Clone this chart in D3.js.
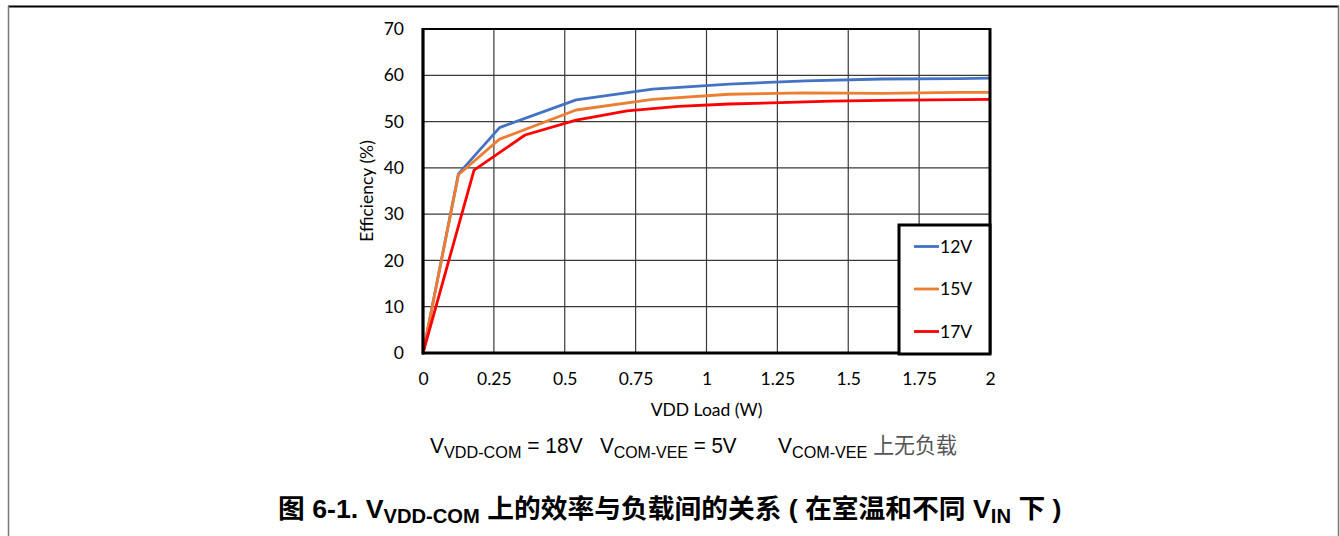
<!DOCTYPE html>
<html>
<head>
<meta charset="utf-8">
<script src="https://cdn.jsdelivr.net/npm/d3@7"></script>
<style>
  body { margin: 0; background: #fff; }
  svg { display: block; }
</style>
</head>
<body>
<div id="chart"></div>
<script>
// data
var load12V = [0, 0.125, 0.27, 0.54, 0.81, 1.08, 1.35, 1.62, 1.89, 2.0];
var eff12V = [0, 38.7, 48.7, 54.7, 57.0, 58.1, 58.8, 59.2, 59.3, 59.4];
var load15V = [0, 0.125, 0.27, 0.54, 0.81, 1.08, 1.35, 1.62, 1.89, 2.0];
var eff15V = [0, 38.5, 46.2, 52.5, 54.8, 55.9, 56.2, 56.1, 56.3, 56.3];
var load17V = [0, 0.18, 0.36, 0.54, 0.72, 0.9, 1.08, 1.26, 1.44, 1.62, 1.8, 2.0];
var eff17V = [0, 39.5, 47.1, 50.3, 52.3, 53.3, 53.8, 54.1, 54.4, 54.6, 54.7, 54.8];
var seriesNames = ["12V", "15V", "17V"];
var seriesColors = ["#4472C4", "#ED7D31", "#FF0000"];
var xTicks = [0, 0.25, 0.5, 0.75, 1, 1.25, 1.5, 1.75, 2];
var yTicks = [0, 10, 20, 30, 40, 50, 60, 70];

var W = 1340, H = 536;
var plot = { left: 423, right: 990, top: 29, bottom: 353 };
var tickFont = "Lato, 'Noto Sans', sans-serif";
var capFont = "'Liberation Sans Narrow', 'Liberation Sans', Arial, 'Noto Sans CJK SC', sans-serif";

var svg = d3.select("#chart")
  .append("svg")
  .attr("width", W)
  .attr("height", H);

// outer frame (top, left, right edges only)
svg.append("line").attr("x1", 8).attr("x2", 1339).attr("y1", 6.5).attr("y2", 6.5)
  .attr("stroke", "#000").attr("stroke-width", 2);
svg.append("line").attr("x1", 8.5).attr("x2", 8.5).attr("y1", 6).attr("y2", H)
  .attr("stroke", "#777").attr("stroke-width", 1.5);
svg.append("line").attr("x1", 1338.5).attr("x2", 1338.5).attr("y1", 6).attr("y2", H)
  .attr("stroke", "#777").attr("stroke-width", 1.5);

var x = d3.scaleLinear().domain([0, 2]).range([plot.left, plot.right]);
var y = d3.scaleLinear().domain([0, 70]).range([plot.bottom, plot.top]);

// gridlines
svg.append("g")
  .selectAll("line.vgrid")
  .data(xTicks)
  .enter()
  .append("line")
  .attr("x1", function (d) { return x(d); })
  .attr("x2", function (d) { return x(d); })
  .attr("y1", plot.top)
  .attr("y2", plot.bottom)
  .attr("stroke", "#3a3a3a")
  .attr("stroke-width", 1.2);
svg.append("g")
  .selectAll("line.hgrid")
  .data(yTicks)
  .enter()
  .append("line")
  .attr("x1", plot.left)
  .attr("x2", plot.right)
  .attr("y1", function (d) { return y(d); })
  .attr("y2", function (d) { return y(d); })
  .attr("stroke", "#3a3a3a")
  .attr("stroke-width", 1.2);

// axes (labels only, lines drawn as frame)
var gx = svg.append("g")
  .attr("transform", "translate(0," + (plot.bottom + 17) + ")")
  .call(d3.axisBottom(x).tickValues(xTicks).tickSize(0).tickFormat(function (d) { return String(d); }));
gx.select(".domain").remove();
gx.selectAll("text").attr("font-family", tickFont).attr("font-size", 17.5).attr("fill", "#000");

var gy = svg.append("g")
  .attr("transform", "translate(" + (plot.left - 19) + ",0)")
  .call(d3.axisLeft(y).tickValues(yTicks).tickSize(0));
gy.select(".domain").remove();
gy.selectAll("text").attr("font-family", tickFont).attr("font-size", 17.5).attr("fill", "#000").attr("x", 0);

// series lines
var line = d3.line()
  .x(function (d) { return x(d[0]); })
  .y(function (d) { return y(d[1]); });
var series = [d3.zip(load12V, eff12V), d3.zip(load15V, eff15V), d3.zip(load17V, eff17V)];
svg.append("g")
  .selectAll("path")
  .data(series)
  .enter()
  .append("path")
  .attr("d", line)
  .attr("fill", "none")
  .attr("stroke", function (d, i) { return seriesColors[i]; })
  .attr("stroke-width", 2.8)
  .attr("stroke-linejoin", "round");

// plot border
svg.append("rect")
  .attr("x", plot.left).attr("y", plot.top)
  .attr("width", plot.right - plot.left).attr("height", plot.bottom - plot.top)
  .attr("fill", "none").attr("stroke", "#000").attr("stroke-width", 2);
svg.append("line").attr("x1", plot.left).attr("x2", plot.left).attr("y1", plot.top - 1).attr("y2", plot.bottom + 1.5)
  .attr("stroke", "#000").attr("stroke-width", 3.2);
svg.append("line").attr("x1", plot.left - 1).attr("x2", plot.right + 1).attr("y1", plot.bottom).attr("y2", plot.bottom)
  .attr("stroke", "#000").attr("stroke-width", 3.2);
svg.append("line").attr("x1", plot.right).attr("x2", plot.right).attr("y1", plot.top - 1).attr("y2", plot.bottom + 1)
  .attr("stroke", "#000").attr("stroke-width", 3);

// axis titles
svg.append("text")
  .attr("transform", "translate(373," + ((plot.top + plot.bottom) / 2) + ") rotate(-90)")
  .attr("text-anchor", "middle")
  .attr("font-family", tickFont).attr("font-size", 17.5)
  .text("Efficiency (%)");
svg.append("text")
  .attr("x", (plot.left + plot.right) / 2)
  .attr("y", 416)
  .attr("text-anchor", "middle")
  .attr("font-family", tickFont).attr("font-size", 17.5)
  .text("VDD Load (W)");

// legend
var lg = svg.append("g");
lg.append("rect")
  .attr("x", 899).attr("y", 225).attr("width", 91).attr("height", 129)
  .attr("fill", "#fff").attr("stroke", "#000").attr("stroke-width", 3);
var legendY = [246.5, 289, 331.5];
seriesNames.forEach(function (name, i) {
  lg.append("line")
    .attr("x1", 914).attr("x2", 939)
    .attr("y1", legendY[i]).attr("y2", legendY[i])
    .attr("stroke", seriesColors[i]).attr("stroke-width", 2.8);
  lg.append("text")
    .attr("x", 940).attr("y", legendY[i] + 6)
    .attr("font-family", tickFont).attr("font-size", 17.5)
    .text(name);
});

// fit a text element horizontally between x0 and x1
function fitWidth(t, x0, x1) {
  var w = t.node().getBBox().width;
  var k = (x1 - x0) / w;
  t.attr("transform", "translate(" + x0 + ",0) scale(" + k + ",1) translate(" + (-x0) + ",0)");
}

// condition line under the chart
function condText(x0, x1, sub, rest, restColor) {
  var t = svg.append("text")
    .attr("x", x0).attr("y", 453)
    .attr("font-family", capFont).attr("font-size", 22);
  t.append("tspan").text("V");
  t.append("tspan").attr("font-size", 17).attr("dy", 5).text(sub);
  t.append("tspan").attr("dy", -5).attr("fill", restColor).text(rest);
  fitWidth(t, x0, x1);
}
condText(430, 583, "VDD-COM", " = 18V", "#000");
condText(600, 737, "COM-VEE", " = 5V", "#000");
condText(778, 957, "COM-VEE", " 上无负载", "#555");

// figure caption
var cap = svg.append("text")
  .attr("x", 278).attr("y", 518)
  .attr("font-family", capFont).attr("font-size", 26.5).attr("font-weight", "bold");
cap.append("tspan").text("图 6-1. V");
cap.append("tspan").attr("font-size", 20).attr("dy", 5).text("VDD-COM");
cap.append("tspan").attr("dy", -5).text(" 上的效率与负载间的关系 ( 在室温和不同 V");
cap.append("tspan").attr("font-size", 20).attr("dy", 5).text("IN");
cap.append("tspan").attr("dy", -5).text(" 下 )");
fitWidth(cap, 278, 1062);
</script>
</body>
</html>
